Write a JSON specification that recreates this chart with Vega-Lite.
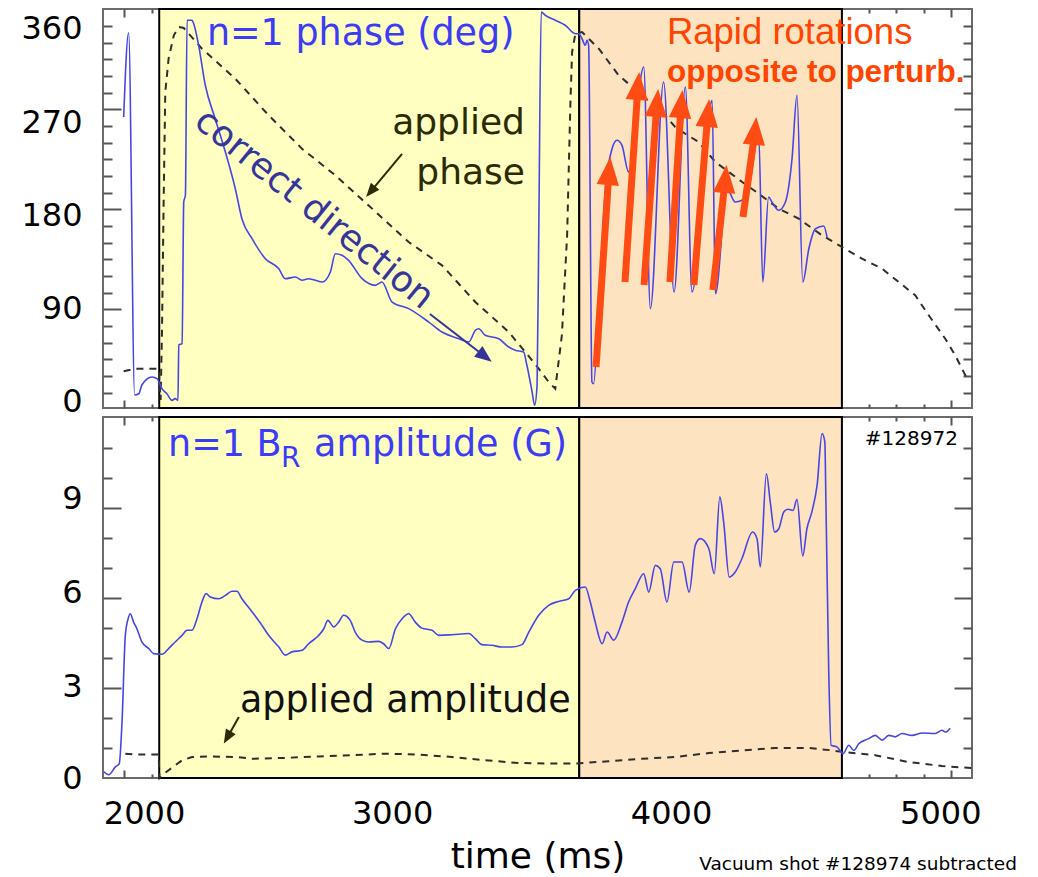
{
  "$schema": "https://vega.github.io/schema/vega-lite/v6.json",
  "background": "white",
  "padding": {"left": 19, "top": 7, "right": 5, "bottom": 5},
  "spacing": 9,
  "bounds": "flush",
  "config": {
    "view": {"stroke": "#6b6b6b", "strokeWidth": 2},
    "axis": {"grid": false, "domain": false, "tickColor": "#555555", "tickWidth": 2, "labelFont": "DejaVu Sans", "labelFontSize": 32, "labelColor": "#000000", "titleFont": "DejaVu Sans", "titleColor": "#000000", "titleFontWeight": "normal", "labelFlush": false}
  },
  "datasets": {
    "regions": [
      {"start": 2126, "end": 3650, "period": "correct direction"},
      {"start": 3650, "end": 4603, "period": "rapid rotations"}
    ],
    "phaseMeasured": [
      {"t":1997,"deg":274.8},{"t":2015,"deg":356.1},{"t":2037,"deg":6.8},{"t":2052,"deg":8.0},{"t":2063,"deg":16.4},{"t":2100,"deg":24.1},{"t":2118,"deg":22.5},{"t":2136,"deg":12.8},{"t":2154,"deg":8.0},{"t":2172,"deg":1.6},{"t":2184,"deg":3.2},{"t":2194,"deg":1.6},{"t":2197,"deg":55.0},{"t":2209,"deg":56.2},{"t":2215,"deg":192.9},{"t":2221,"deg":199.6},{"t":2227,"deg":368.1},{"t":2245,"deg":368.1},{"t":2251,"deg":364.8},{"t":2269,"deg":344.0},{"t":2293,"deg":305.7},{"t":2329,"deg":273.2},{"t":2366,"deg":241.1},{"t":2402,"deg":205.7},{"t":2426,"deg":176.8},{"t":2463,"deg":157.5},{"t":2511,"deg":138.2},{"t":2560,"deg":128.5},{"t":2583,"deg":118.9},{"t":2620,"deg":120.5},{"t":2644,"deg":117.4},{"t":2668,"deg":118.9},{"t":2717,"deg":115.7},{"t":2747,"deg":125.4},{"t":2765,"deg":143.0},{"t":2789,"deg":141.5},{"t":2813,"deg":136.6},{"t":2862,"deg":118.9},{"t":2910,"deg":112.5},{"t":2934,"deg":115.7},{"t":2971,"deg":96.4},{"t":3031,"deg":90.0},{"t":3104,"deg":77.1},{"t":3152,"deg":67.5},{"t":3213,"deg":61.0},{"t":3249,"deg":57.9},{"t":3273,"deg":69.1},{"t":3285,"deg":70.7},{"t":3309,"deg":64.3},{"t":3358,"deg":61.0},{"t":3394,"deg":53.0},{"t":3418,"deg":49.9},{"t":3448,"deg":48.2},{"t":3460,"deg":35.4},{"t":3479,"deg":9.6},{"t":3488,"deg":-3.2},{"t":3497,"deg":16.4},{"t":3503,"deg":161.0},{"t":3512,"deg":376.1},{"t":3527,"deg":372.9},{"t":3563,"deg":368.1},{"t":3599,"deg":363.3},{"t":3636,"deg":355.2},{"t":3648,"deg":355.2},{"t":3660,"deg":350.3},{"t":3672,"deg":344.0},{"t":3678,"deg":348.8},{"t":3684,"deg":344.0},{"t":3696,"deg":19.3},{"t":3702,"deg":17.6},{"t":3721,"deg":96.4},{"t":3745,"deg":205.7},{"t":3769,"deg":244.3},{"t":3787,"deg":252.4},{"t":3805,"deg":247.5},{"t":3829,"deg":221.8},{"t":3884,"deg":323.0},{"t":3908,"deg":90.0},{"t":3956,"deg":308.6},{"t":3994,"deg":106.1},{"t":4035,"deg":303.8},{"t":4059,"deg":106.1},{"t":4132,"deg":290.9},{"t":4144,"deg":104.4},{"t":4186,"deg":205.7},{"t":4216,"deg":192.9},{"t":4240,"deg":194.5},{"t":4265,"deg":205.7},{"t":4301,"deg":258.7},{"t":4316,"deg":115.7},{"t":4337,"deg":197.7},{"t":4349,"deg":192.9},{"t":4374,"deg":184.9},{"t":4398,"deg":192.9},{"t":4422,"deg":234.6},{"t":4440,"deg":295.8},{"t":4461,"deg":115.7},{"t":4483,"deg":147.8},{"t":4507,"deg":167.1},{"t":4537,"deg":169.7},{"t":4549,"deg":159.1}
    ],
    "phaseApplied": [
      {"t":1997,"deg":29.6},{"t":2039,"deg":32.1},{"t":2124,"deg":32.1},{"t":2131,"deg":1.9},{"t":2136,"deg":67.5},{"t":2142,"deg":192.9},{"t":2148,"deg":298.9},{"t":2160,"deg":331.1},{"t":2179,"deg":353.6},{"t":2197,"deg":361.6},{"t":2215,"deg":360.7},{"t":2281,"deg":340.7},{"t":2402,"deg":311.8},{"t":2523,"deg":276.5},{"t":2644,"deg":244.3},{"t":2765,"deg":218.6},{"t":2890,"deg":188.5},{"t":3031,"deg":154.3},{"t":3152,"deg":131.8},{"t":3273,"deg":96.4},{"t":3394,"deg":67.5},{"t":3454,"deg":48.2},{"t":3503,"deg":32.1},{"t":3539,"deg":19.3},{"t":3563,"deg":12.8},{"t":3587,"deg":64.6},{"t":3606,"deg":161.0},{"t":3618,"deg":289.3},{"t":3624,"deg":337.5},{"t":3636,"deg":355.2},{"t":3660,"deg":356.8},{"t":3721,"deg":340.7},{"t":3793,"deg":315.0},{"t":3878,"deg":295.8},{"t":3950,"deg":279.7},{"t":3998,"deg":265.2},{"t":4035,"deg":258.7},{"t":4083,"deg":250.7},{"t":4144,"deg":231.4},{"t":4241,"deg":212.2},{"t":4301,"deg":200.9},{"t":4374,"deg":186.4},{"t":4446,"deg":176.8},{"t":4531,"deg":160.7},{"t":4603,"deg":149.5},{"t":4676,"deg":138.2},{"t":4749,"deg":128.5},{"t":4809,"deg":115.7},{"t":4869,"deg":102.9},{"t":4918,"deg":83.6},{"t":4978,"deg":61.0},{"t":5014,"deg":45.0},{"t":5051,"deg":25.7},{"t":5061,"deg":22.5}
    ],
    "ampMeasured": [
      {"t":1925,"amp":0.20},{"t":1943,"amp":0.11},{"t":1967,"amp":0.37},{"t":1981,"amp":0.48},{"t":1991,"amp":1.86},{"t":2003,"amp":4.75},{"t":2013,"amp":5.30},{"t":2021,"amp":5.47},{"t":2033,"amp":5.19},{"t":2045,"amp":4.97},{"t":2063,"amp":4.53},{"t":2088,"amp":4.31},{"t":2106,"amp":4.14},{"t":2136,"amp":4.12},{"t":2160,"amp":4.31},{"t":2184,"amp":4.53},{"t":2209,"amp":4.75},{"t":2227,"amp":4.92},{"t":2245,"amp":4.92},{"t":2263,"amp":5.30},{"t":2281,"amp":5.86},{"t":2296,"amp":6.14},{"t":2311,"amp":6.03},{"t":2342,"amp":5.97},{"t":2366,"amp":6.08},{"t":2390,"amp":6.22},{"t":2408,"amp":6.22},{"t":2426,"amp":5.97},{"t":2463,"amp":5.53},{"t":2499,"amp":5.08},{"t":2523,"amp":4.75},{"t":2560,"amp":4.36},{"t":2583,"amp":4.09},{"t":2608,"amp":4.20},{"t":2644,"amp":4.25},{"t":2668,"amp":4.47},{"t":2705,"amp":4.75},{"t":2723,"amp":4.97},{"t":2738,"amp":5.25},{"t":2759,"amp":5.03},{"t":2777,"amp":5.19},{"t":2795,"amp":5.42},{"t":2819,"amp":5.25},{"t":2837,"amp":4.86},{"t":2862,"amp":4.59},{"t":2886,"amp":4.53},{"t":2922,"amp":4.55},{"t":2940,"amp":4.47},{"t":2959,"amp":4.31},{"t":2983,"amp":4.97},{"t":3007,"amp":5.30},{"t":3031,"amp":5.47},{"t":3055,"amp":5.19},{"t":3079,"amp":4.99},{"t":3116,"amp":4.92},{"t":3140,"amp":4.75},{"t":3188,"amp":4.77},{"t":3249,"amp":4.81},{"t":3273,"amp":4.64},{"t":3297,"amp":4.44},{"t":3333,"amp":4.42},{"t":3370,"amp":4.36},{"t":3406,"amp":4.36},{"t":3442,"amp":4.44},{"t":3467,"amp":4.86},{"t":3503,"amp":5.42},{"t":3539,"amp":5.75},{"t":3575,"amp":5.88},{"t":3612,"amp":5.97},{"t":3636,"amp":6.25},{"t":3672,"amp":6.36},{"t":3690,"amp":5.86},{"t":3708,"amp":5.19},{"t":3733,"amp":4.47},{"t":3751,"amp":4.86},{"t":3775,"amp":4.59},{"t":3805,"amp":5.19},{"t":3829,"amp":5.86},{"t":3853,"amp":6.30},{"t":3884,"amp":6.80},{"t":3902,"amp":6.19},{"t":3926,"amp":7.08},{"t":3944,"amp":6.97},{"t":3968,"amp":5.86},{"t":3993,"amp":7.19},{"t":4023,"amp":7.19},{"t":4049,"amp":6.19},{"t":4071,"amp":7.75},{"t":4089,"amp":7.97},{"t":4120,"amp":7.64},{"t":4140,"amp":6.80},{"t":4160,"amp":9.36},{"t":4174,"amp":8.52},{"t":4194,"amp":6.69},{"t":4216,"amp":6.86},{"t":4240,"amp":7.30},{"t":4279,"amp":8.19},{"t":4295,"amp":7.97},{"t":4307,"amp":7.03},{"t":4329,"amp":10.13},{"t":4343,"amp":9.19},{"t":4359,"amp":8.19},{"t":4374,"amp":8.30},{"t":4392,"amp":8.86},{"t":4407,"amp":8.95},{"t":4426,"amp":8.91},{"t":4440,"amp":9.28},{"t":4461,"amp":7.39},{"t":4476,"amp":8.30},{"t":4494,"amp":8.86},{"t":4513,"amp":9.75},{"t":4531,"amp":11.47},{"t":4541,"amp":11.19},{"t":4545,"amp":9.19},{"t":4555,"amp":3.64},{"t":4564,"amp":1.09},{"t":4586,"amp":1.03},{"t":4607,"amp":0.81},{"t":4628,"amp":1.09},{"t":4646,"amp":0.92},{"t":4664,"amp":1.14},{"t":4700,"amp":1.31},{"t":4724,"amp":1.42},{"t":4749,"amp":1.26},{"t":4773,"amp":1.42},{"t":4797,"amp":1.37},{"t":4821,"amp":1.48},{"t":4857,"amp":1.42},{"t":4894,"amp":1.50},{"t":4942,"amp":1.48},{"t":4966,"amp":1.59},{"t":4978,"amp":1.53},{"t":4996,"amp":1.66}
    ],
    "ampApplied": [
      {"t":2003,"amp":0.81},{"t":2039,"amp":0.78},{"t":2124,"amp":0.78},{"t":2127,"amp":0.0},{"t":2136,"amp":0.09},{"t":2160,"amp":0.26},{"t":2209,"amp":0.59},{"t":2245,"amp":0.70},{"t":2306,"amp":0.72},{"t":2402,"amp":0.70},{"t":2463,"amp":0.64},{"t":2583,"amp":0.67},{"t":2705,"amp":0.72},{"t":2825,"amp":0.76},{"t":2946,"amp":0.81},{"t":3067,"amp":0.78},{"t":3188,"amp":0.70},{"t":3309,"amp":0.59},{"t":3430,"amp":0.50},{"t":3539,"amp":0.48},{"t":3636,"amp":0.48},{"t":3757,"amp":0.56},{"t":3878,"amp":0.64},{"t":3998,"amp":0.70},{"t":4120,"amp":0.83},{"t":4241,"amp":0.92},{"t":4361,"amp":1.00},{"t":4483,"amp":1.00},{"t":4567,"amp":0.92},{"t":4603,"amp":0.87},{"t":4724,"amp":0.76},{"t":4845,"amp":0.53},{"t":4966,"amp":0.40},{"t":5075,"amp":0.33}
    ],
    "rotationArrows": [
      {"t0":3711,"v0":33.8,"t1":3758,"v1":222.8},
      {"t0":3816,"v0":115.7,"t1":3863,"v1":304.8},
      {"t0":3885,"v0":112.8,"t1":3932,"v1":288.4},
      {"t0":3979,"v0":115.7,"t1":4020,"v1":287.4},
      {"t0":4066,"v0":112.8,"t1":4117,"v1":278.7},
      {"t0":4135,"v0":108.0,"t1":4180,"v1":215.1},
      {"t0":4244,"v0":178.4,"t1":4288,"v1":261.5}
    ]
  },
  "vconcat": [
    {
      "width": 869,
      "height": 399,
      "resolve": {"axis": {"x": "independent", "y": "independent"}},
      "layer": [
        {
          "data": {"name": "regions"},
          "mark": {"type": "rect", "stroke": "#000000", "strokeWidth": 2},
          "encoding": {
            "x": {"field": "start", "type": "quantitative", "scale": {"domain": [1922, 5075], "nice": false, "zero": false}, "axis": null},
            "x2": {"field": "end"},
            "color": {"field": "period", "type": "nominal", "scale": {"domain": ["correct direction", "rapid rotations"], "range": ["#ffffc2", "#fee3c0"]}, "legend": null}
          }
        },
        {
          "data": {"name": "phaseApplied"},
          "mark": {"type": "line", "color": "#2e2e2e", "strokeWidth": 2, "strokeDash": [7, 6]},
          "encoding": {
            "x": {"field": "t", "type": "quantitative", "scale": {"domain": [1922, 5075], "nice": false, "zero": false}, "axis": {"orient": "bottom", "values": [2000, 2500, 3000, 3500, 4000, 4500, 5000], "tickSize": -8, "labels": false, "title": null}},
            "y": {"field": "deg", "type": "quantitative", "scale": {"domain": [-5.8, 379], "nice": false, "zero": false}, "axis": {"orient": "left", "values": [89.4, 185.8, 282.2], "tickSize": -18, "labels": false, "title": null}}
          }
        },
        {
          "data": {"name": "phaseMeasured"},
          "mark": {"type": "line", "color": "#4646e6", "strokeWidth": 1.6, "interpolate": "monotone"},
          "encoding": {
            "x": {"field": "t", "type": "quantitative", "axis": {"orient": "bottom", "values": [2100, 2200, 2300, 2400, 2600, 2700, 2800, 2900, 3100, 3200, 3300, 3400, 3600, 3700, 3800, 3900, 4100, 4200, 4300, 4400, 4600, 4700, 4800, 4900], "tickSize": -4, "labels": false, "title": null}},
            "y": {"field": "deg", "type": "quantitative", "axis": {"orient": "left", "values": [9.0, 25.1, 41.1, 57.2, 73.3, 105.4, 121.5, 137.6, 153.6, 169.7, 201.9, 217.9, 234.0, 250.1, 266.2, 298.3, 314.4, 330.4, 346.5, 362.6], "tickSize": -9, "labels": false, "title": null}}
          }
        },
        {
          "data": {"name": "phaseMeasured"},
          "mark": {"type": "point", "opacity": 0, "size": 1},
          "encoding": {
            "x": {"field": "t", "type": "quantitative", "axis": {"orient": "top", "values": [2000, 2500, 3000, 3500, 4000, 4500, 5000], "tickSize": -8, "labels": false, "title": null}},
            "y": {"field": "deg", "type": "quantitative", "axis": {"orient": "right", "values": [89.4, 185.8, 282.2], "tickSize": -18, "labels": false, "title": null}}
          }
        },
        {
          "data": {"name": "phaseMeasured"},
          "mark": {"type": "point", "opacity": 0, "size": 1},
          "encoding": {
            "x": {"field": "t", "type": "quantitative", "axis": {"orient": "top", "values": [2100, 2200, 2300, 2400, 2600, 2700, 2800, 2900, 3100, 3200, 3300, 3400, 3600, 3700, 3800, 3900, 4100, 4200, 4300, 4400, 4600, 4700, 4800, 4900], "tickSize": -4, "labels": false, "title": null}},
            "y": {"field": "deg", "type": "quantitative", "axis": {"orient": "right", "values": [9.0, 25.1, 41.1, 57.2, 73.3, 105.4, 121.5, 137.6, 153.6, 169.7, 201.9, 217.9, 234.0, 250.1, 266.2, 298.3, 314.4, 330.4, 346.5, 362.6], "tickSize": -9, "labels": false, "title": null}}
          }
        },
        {
          "data": {"name": "phaseMeasured"},
          "mark": {"type": "point", "opacity": 0, "size": 1},
          "encoding": {
            "x": {"field": "t", "type": "quantitative", "axis": null},
            "y": {"field": "deg", "type": "quantitative", "axis": {"orient": "left", "values": [0, 90, 180, 270, 360], "ticks": false, "labelPadding": 21, "title": null}}
          }
        },
        {
          "data": {"name": "rotationArrows"},
          "mark": {"type": "rule", "color": "#ff4b14", "strokeWidth": 7},
          "encoding": {
            "x": {"field": "t0", "type": "quantitative", "axis": null},
            "y": {"field": "v0", "type": "quantitative", "axis": null},
            "x2": {"field": "t1"},
            "y2": {"field": "v1"}
          }
        },
        {
          "data": {"name": "rotationArrows"},
          "mark": {"type": "point", "shape": "M0,-1L-0.8,1L0.8,1Z", "size": 784, "filled": true, "opacity": 1, "color": "#ff4b14", "angle": 5},
          "encoding": {
            "x": {"field": "t1", "type": "quantitative", "axis": null},
            "y": {"field": "v1", "type": "quantitative", "axis": null}
          }
        },
        {
          "data": {"values": [{"t0": 3007, "v0": 239.2, "t1": 2893, "v1": 202.9}]},
          "mark": {"type": "rule", "color": "#2b2b00", "strokeWidth": 2},
          "encoding": {
            "x": {"field": "t0", "type": "quantitative", "axis": null},
            "y": {"field": "v0", "type": "quantitative", "axis": null},
            "x2": {"field": "t1"},
            "y2": {"field": "v1"}
          }
        },
        {
          "data": {"values": [{"t1": 2893, "v1": 202.9}]},
          "mark": {"type": "point", "shape": "M0,-1L-0.8,1L0.8,1Z", "size": 196, "filled": true, "opacity": 1, "color": "#2b2b00", "angle": 220},
          "encoding": {
            "x": {"field": "t1", "type": "quantitative", "axis": null},
            "y": {"field": "v1", "type": "quantitative", "axis": null}
          }
        },
        {
          "data": {"values": [{"t0": 3108, "v0": 84.9, "t1": 3308, "v1": 43.9}]},
          "mark": {"type": "rule", "color": "#33339a", "strokeWidth": 2},
          "encoding": {
            "x": {"field": "t0", "type": "quantitative", "axis": null},
            "y": {"field": "v0", "type": "quantitative", "axis": null},
            "x2": {"field": "t1"},
            "y2": {"field": "v1"}
          }
        },
        {
          "data": {"values": [{"t1": 3308, "v1": 43.9}]},
          "mark": {"type": "point", "shape": "M0,-1L-0.8,1L0.8,1Z", "size": 289, "filled": true, "opacity": 1, "color": "#33339a", "angle": 127.7},
          "encoding": {
            "x": {"field": "t1", "type": "quantitative", "axis": null},
            "y": {"field": "v1", "type": "quantitative", "axis": null}
          }
        },
        {
          "data": {"values": [{"label": "n=1 phase (deg)", "t": 2299, "v": 344.3}]},
          "mark": {"type": "text", "font": "DejaVu Sans", "fontSize": 36.5, "color": "#3c3cf5", "align": "left", "baseline": "alphabetic"},
          "encoding": {
            "x": {"field": "t", "type": "quantitative", "axis": null},
            "y": {"field": "v", "type": "quantitative", "axis": null},
            "text": {"field": "label"}
          }
        },
        {
          "data": {"values": [{"label": "applied", "t": 3453, "v": 258.4}, {"label": "phase", "t": 3453, "v": 210.5}]},
          "mark": {"type": "text", "font": "DejaVu Sans", "fontSize": 36, "color": "#2b2b00", "align": "right", "baseline": "alphabetic"},
          "encoding": {
            "x": {"field": "t", "type": "quantitative", "axis": null},
            "y": {"field": "v", "type": "quantitative", "axis": null},
            "text": {"field": "label"}
          }
        },
        {
          "data": {"values": [{"label": "correct direction", "t": 2688, "v": 186.1}]},
          "mark": {"type": "text", "font": "DejaVu Sans", "fontSize": 36, "color": "#35359a", "align": "center", "baseline": "middle", "angle": 39},
          "encoding": {
            "x": {"field": "t", "type": "quantitative", "axis": null},
            "y": {"field": "v", "type": "quantitative", "axis": null},
            "text": {"field": "label"}
          }
        },
        {
          "data": {"values": [{"label": "Rapid rotations", "t": 3968, "v": 345.2}]},
          "mark": {"type": "text", "font": "Liberation Sans", "fontSize": 36.5, "color": "#ff4500", "align": "left", "baseline": "alphabetic"},
          "encoding": {
            "x": {"field": "t", "type": "quantitative", "axis": null},
            "y": {"field": "v", "type": "quantitative", "axis": null},
            "text": {"field": "label"}
          }
        },
        {
          "data": {"values": [{"label": "opposite to perturb.", "t": 3968, "v": 308.6}]},
          "mark": {"type": "text", "font": "Liberation Sans", "fontSize": 31.5, "fontWeight": "bold", "color": "#ff4500", "align": "left", "baseline": "alphabetic"},
          "encoding": {
            "x": {"field": "t", "type": "quantitative", "axis": null},
            "y": {"field": "v", "type": "quantitative", "axis": null},
            "text": {"field": "label"}
          }
        }
      ]
    },
    {
      "width": 869,
      "height": 361,
      "resolve": {"axis": {"x": "independent", "y": "independent"}},
      "layer": [
        {
          "data": {"name": "regions"},
          "mark": {"type": "rect", "stroke": "#000000", "strokeWidth": 2},
          "encoding": {
            "x": {"field": "start", "type": "quantitative", "scale": {"domain": [1922, 5075], "nice": false, "zero": false}, "axis": null},
            "x2": {"field": "end"},
            "color": {"field": "period", "type": "nominal", "scale": {"domain": ["correct direction", "rapid rotations"], "range": ["#ffffc2", "#fee3c0"]}, "legend": null}
          }
        },
        {
          "data": {"name": "ampApplied"},
          "mark": {"type": "line", "color": "#2e2e2e", "strokeWidth": 2, "strokeDash": [7, 6]},
          "encoding": {
            "x": {"field": "t", "type": "quantitative", "scale": {"domain": [1922, 5075], "nice": false, "zero": false}, "axis": {"orient": "bottom", "values": [2000, 2500, 3000, 3500, 4000, 4500, 5000], "tickSize": -8, "labels": false, "title": null}},
            "y": {"field": "amp", "type": "quantitative", "scale": {"domain": [0, 12.02], "nice": false, "zero": false}, "axis": {"orient": "left", "values": [3, 6, 9], "tickSize": -18, "labels": false, "title": null}}
          }
        },
        {
          "data": {"name": "ampMeasured"},
          "mark": {"type": "line", "color": "#4646e6", "strokeWidth": 1.6, "interpolate": "monotone"},
          "encoding": {
            "x": {"field": "t", "type": "quantitative", "axis": {"orient": "bottom", "values": [2100, 2200, 2300, 2400, 2600, 2700, 2800, 2900, 3100, 3200, 3300, 3400, 3600, 3700, 3800, 3900, 4100, 4200, 4300, 4400, 4600, 4700, 4800, 4900], "tickSize": -4, "labels": false, "title": null}},
            "y": {"field": "amp", "type": "quantitative", "axis": {"orient": "left", "values": [1, 2, 4, 5, 7, 8, 10, 11], "tickSize": -9, "labels": false, "title": null}}
          }
        },
        {
          "data": {"name": "ampMeasured"},
          "mark": {"type": "point", "opacity": 0, "size": 1},
          "encoding": {
            "x": {"field": "t", "type": "quantitative", "axis": {"orient": "top", "values": [2000, 2500, 3000, 3500, 4000, 4500, 5000], "tickSize": -8, "labels": false, "title": null}},
            "y": {"field": "amp", "type": "quantitative", "axis": {"orient": "right", "values": [3, 6, 9], "tickSize": -18, "labels": false, "title": null}}
          }
        },
        {
          "data": {"name": "ampMeasured"},
          "mark": {"type": "point", "opacity": 0, "size": 1},
          "encoding": {
            "x": {"field": "t", "type": "quantitative", "axis": {"orient": "top", "values": [2100, 2200, 2300, 2400, 2600, 2700, 2800, 2900, 3100, 3200, 3300, 3400, 3600, 3700, 3800, 3900, 4100, 4200, 4300, 4400, 4600, 4700, 4800, 4900], "tickSize": -4, "labels": false, "title": null}},
            "y": {"field": "amp", "type": "quantitative", "axis": {"orient": "right", "values": [1, 2, 4, 5, 7, 8, 10, 11], "tickSize": -9, "labels": false, "title": null}}
          }
        },
        {
          "data": {"name": "ampMeasured"},
          "mark": {"type": "point", "opacity": 0, "size": 1},
          "encoding": {
            "x": {"field": "t", "type": "quantitative", "axis": {"orient": "bottom", "values": [2071, 2971, 3983, 4960], "labelExpr": "format(round(datum.value / 1000) * 1000, 'd')", "ticks": false, "labelPadding": 20, "title": "time (ms)", "titleFontSize": 36, "titlePadding": 10}},
            "y": {"field": "amp", "type": "quantitative", "axis": {"orient": "left", "values": [0, 3.03, 6.19, 9.3], "labelExpr": "format(round(datum.value / 3) * 3, 'd')", "ticks": false, "labelPadding": 21, "title": null}}
          }
        },
        {
          "data": {"values": [{"t0": 2415, "v0": 2.03, "t1": 2373, "v1": 1.35}]},
          "mark": {"type": "rule", "color": "#2b2b00", "strokeWidth": 2},
          "encoding": {
            "x": {"field": "t0", "type": "quantitative", "axis": null},
            "y": {"field": "v0", "type": "quantitative", "axis": null},
            "x2": {"field": "t1"},
            "y2": {"field": "v1"}
          }
        },
        {
          "data": {"values": [{"t1": 2373, "v1": 1.35}]},
          "mark": {"type": "point", "shape": "M0,-1L-0.8,1L0.8,1Z", "size": 196, "filled": true, "opacity": 1, "color": "#2b2b00", "angle": 209.8},
          "encoding": {
            "x": {"field": "t1", "type": "quantitative", "axis": null},
            "y": {"field": "v1", "type": "quantitative", "axis": null}
          }
        },
        {
          "data": {"values": [{"label": "n=1 B", "t": 2158, "v": 10.72}, {"label": "amplitude (G)", "t": 2688, "v": 10.72}]},
          "mark": {"type": "text", "font": "DejaVu Sans", "fontSize": 36.5, "color": "#3c3cf5", "align": "left", "baseline": "alphabetic"},
          "encoding": {
            "x": {"field": "t", "type": "quantitative", "axis": null},
            "y": {"field": "v", "type": "quantitative", "axis": null},
            "text": {"field": "label"}
          }
        },
        {
          "data": {"values": [{"label": "R", "t": 2568, "v": 10.36}]},
          "mark": {"type": "text", "font": "DejaVu Sans", "fontSize": 28, "color": "#3c3cf5", "align": "left", "baseline": "alphabetic"},
          "encoding": {
            "x": {"field": "t", "type": "quantitative", "axis": null},
            "y": {"field": "v", "type": "quantitative", "axis": null},
            "text": {"field": "label"}
          }
        },
        {
          "data": {"values": [{"label": "applied amplitude", "t": 2419, "v": 2.20}]},
          "mark": {"type": "text", "font": "DejaVu Sans", "fontSize": 36.5, "color": "#111111", "align": "left", "baseline": "alphabetic"},
          "encoding": {
            "x": {"field": "t", "type": "quantitative", "axis": null},
            "y": {"field": "v", "type": "quantitative", "axis": null},
            "text": {"field": "label"}
          }
        },
        {
          "data": {"values": [{"label": "#128972", "t": 5024, "v": 11.09}]},
          "mark": {"type": "text", "font": "DejaVu Sans", "fontSize": 20, "color": "#000000", "align": "right", "baseline": "alphabetic"},
          "encoding": {
            "x": {"field": "t", "type": "quantitative", "axis": null},
            "y": {"field": "v", "type": "quantitative", "axis": null},
            "text": {"field": "label"}
          }
        },
        {
          "data": {"values": [{"label": "Vacuum shot #128974 subtracted", "t": 5238, "v": -3.06}]},
          "mark": {"type": "text", "font": "DejaVu Sans", "fontSize": 18.5, "color": "#000000", "align": "right", "baseline": "alphabetic"},
          "encoding": {
            "x": {"field": "t", "type": "quantitative", "axis": null},
            "y": {"field": "v", "type": "quantitative", "axis": null},
            "text": {"field": "label"}
          }
        }
      ]
    }
  ]
}
